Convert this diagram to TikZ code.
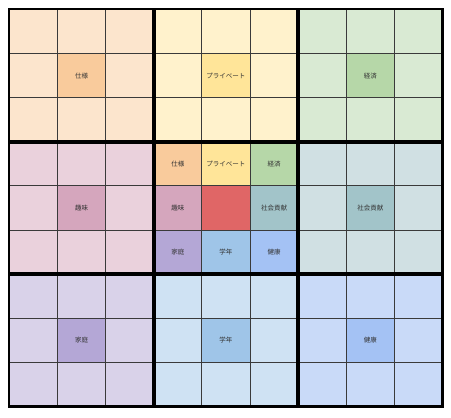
\documentclass[tikz,border=0pt]{standalone}
\usepackage{fontspec}
\newfontfamily\jp{Noto Sans CJK JP}
\definecolor{oL}{HTML}{FCE5CD}\definecolor{oD}{HTML}{F9CB9C}
\definecolor{yL}{HTML}{FFF2CC}\definecolor{yD}{HTML}{FFE599}
\definecolor{gL}{HTML}{D9EAD3}\definecolor{gD}{HTML}{B6D7A8}
\definecolor{pL}{HTML}{EAD1DC}\definecolor{pD}{HTML}{D5A6BD}
\definecolor{cL}{HTML}{D0E0E3}\definecolor{cD}{HTML}{A2C4C9}
\definecolor{vL}{HTML}{D9D2E9}\definecolor{vD}{HTML}{B4A7D6}
\definecolor{bL}{HTML}{CFE2F3}\definecolor{bD}{HTML}{9FC5E8}
\definecolor{kL}{HTML}{C9DAF8}\definecolor{kD}{HTML}{A4C2F4}
\definecolor{rC}{HTML}{E06666}
\definecolor{thin}{HTML}{3A3A3A}
\definecolor{txt}{HTML}{333333}
\begin{document}
\begin{tikzpicture}[x=1pt,y=1pt]
\useasboundingbox[fill=white] (0,0) rectangle (451,-418);
\tikzset{cell/.style={draw=thin, line width=0.9pt, minimum width=48.1pt, minimum height=44.1pt, inner sep=0pt, font=\jp\fontsize{6.5}{7}\selectfont, text=txt},
blockline/.style={draw=black, line width=2.8pt}}
% outer blocks
\foreach \bi/\bj/\lc/\dc/\lab in {0/0/oL/oD/仕様, 0/1/yL/yD/プライベート, 0/2/gL/gD/経済, 1/0/pL/pD/趣味, 1/2/cL/cD/社会貢献, 2/0/vL/vD/家庭, 2/1/bL/bD/学年, 2/2/kL/kD/健康} {
  \foreach \i in {0,1,2} {
    \foreach \j in {0,1,2} {
      \pgfmathtruncatemacro\r{3*\bi+\i}
      \pgfmathtruncatemacro\c{3*\bj+\j}
      \ifnum\i=1 \ifnum\j=1
        \node[cell, fill=\dc] (c-\r-\c) at ({9.5+48.1*(\c+0.5)}, {-(9.5+44.1*(\r+0.5))}) {\lab};
      \else
        \node[cell, fill=\lc] (c-\r-\c) at ({9.5+48.1*(\c+0.5)}, {-(9.5+44.1*(\r+0.5))}) {};
      \fi
      \else
        \node[cell, fill=\lc] (c-\r-\c) at ({9.5+48.1*(\c+0.5)}, {-(9.5+44.1*(\r+0.5))}) {};
      \fi
    }
  }
}
% center block
\foreach \i/\j/\dc/\lab in {0/0/oD/仕様, 0/1/yD/プライベート, 0/2/gD/経済, 1/0/pD/趣味, 1/1/rC/{}, 1/2/cD/社会貢献, 2/0/vD/家庭, 2/1/bD/学年, 2/2/kD/健康} {
  \pgfmathtruncatemacro\r{3+\i}
  \pgfmathtruncatemacro\c{3+\j}
  \node[cell, fill=\dc] (c-\r-\c) at ({9.5+48.1*(\c+0.5)}, {-(9.5+44.1*(\r+0.5))}) {\lab};
}
% thick block borders
\foreach \bi in {0,1,2} {
  \foreach \bj in {0,1,2} {
    \pgfmathtruncatemacro\ra{3*\bi}
    \pgfmathtruncatemacro\ca{3*\bj}
    \pgfmathtruncatemacro\rb{3*\bi+2}
    \pgfmathtruncatemacro\cb{3*\bj+2}
    \draw[blockline] (c-\ra-\ca.north west) rectangle (c-\rb-\cb.south east);
  }
}
\end{tikzpicture}
\end{document}
